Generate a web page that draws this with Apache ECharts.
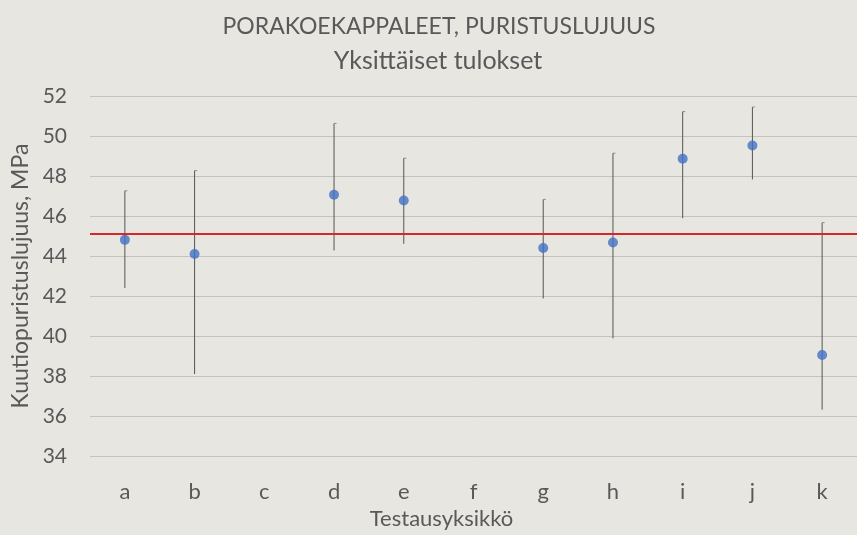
<!DOCTYPE html>
<html>
<head>
<meta charset="utf-8">
<script src="https://cdn.jsdelivr.net/npm/echarts@6/dist/echarts.min.js"></script>
<style>
html,body{margin:0;padding:0;background:#E7E6E1;}
#chart{width:857px;height:535px;}
</style>
</head>
<body>
<div id="chart"></div>
<script>
var categories = ['a','b','c','d','e','f','g','h','i','j','k'];
var means = [44.81, 44.1, null, 47.06, 46.78, null, 44.4, 44.68, 48.86, 49.53, 39.05];
var highs = [47.26, 48.27, null, 50.63, 48.89, null, 46.83, 49.14, 51.22, 51.45, 45.67];
var lows  = [42.4, 38.1, null, 44.28, 44.61, null, 41.88, 39.89, 45.89, 47.83, 36.32];
var referenceValue = 45.1;
var yTicks = {min: 34, max: 52, interval: 2};

var FONT = 'Lato';
var TXT = '#595959';

var errorData = [];
for (var i = 0; i < categories.length; i++) {
  if (means[i] != null) errorData.push([i, lows[i], highs[i]]);
}
var pointData = [];
for (var j = 0; j < categories.length; j++) {
  if (means[j] != null) pointData.push([j, means[j]]);
}

var chart = echarts.init(document.getElementById('chart'));
chart.setOption({
  backgroundColor: '#E7E6E1',
  animation: false,
  title: [
    {text: 'PORAKOEKAPPALEET, PURISTUSLUJUUS', left: 434, top: 10, textAlign: 'center',
     textStyle: {fontFamily: FONT, fontSize: 23, fontWeight: 'normal', color: TXT}},
    {text: 'Yksittäiset tulokset', left: 433, top: 43, textAlign: 'center',
     textStyle: {fontFamily: FONT, fontSize: 25, fontWeight: 'normal', color: TXT}}
  ],
  grid: {left: 90, right: 0, top: 96, bottom: 72, containLabel: false},
  xAxis: {
    type: 'category',
    data: categories,
    name: 'Testausyksikkö',
    nameLocation: 'middle',
    nameGap: 50,
    nameTextStyle: {fontFamily: FONT, fontSize: 22, color: TXT, padding: [0, 64, 0, 0]},
    axisLine: {show: false},
    axisTick: {show: false},
    axisLabel: {fontFamily: FONT, fontSize: 22, color: TXT, margin: 25}
  },
  yAxis: {
    type: 'value',
    min: yTicks.min, max: yTicks.max, interval: yTicks.interval,
    name: 'Kuutiopuristuslujuus, MPa',
    nameLocation: 'middle',
    nameGap: 55,
    nameTextStyle: {fontFamily: FONT, fontSize: 23, color: TXT},
    axisLine: {show: false},
    axisTick: {show: false},
    axisLabel: {fontFamily: FONT, fontSize: 21, color: TXT, margin: 23},
    splitLine: {lineStyle: {color: '#C4C3BF', width: 1}}
  },
  series: [
    {
      type: 'custom',
      data: errorData,
      z: 2,
      renderItem: function (params, api) {
        var x = api.value(0);
        var lo = api.coord([x, api.value(1)]);
        var hi = api.coord([x, api.value(2)]);
        return {
          type: 'group',
          children: [
            {type: 'line', shape: {x1: lo[0], y1: lo[1], x2: hi[0], y2: hi[1]},
             style: {stroke: '#555555', lineWidth: 1}},
            {type: 'line', shape: {x1: hi[0], y1: hi[1], x2: hi[0] + 2.5, y2: hi[1]},
             style: {stroke: '#8A8A8A', lineWidth: 1}}
          ]
        };
      }
    },
    {
      type: 'scatter',
      data: pointData,
      symbol: 'circle',
      symbolSize: 10,
      z: 3,
      itemStyle: {color: '#4472C4'},
      markLine: {
        silent: true,
        symbol: 'none',
        label: {show: false},
        lineStyle: {color: '#D62828', width: 2, type: 'solid'},
        data: [{yAxis: referenceValue}]
      }
    }
  ]
});
</script>
</body>
</html>
